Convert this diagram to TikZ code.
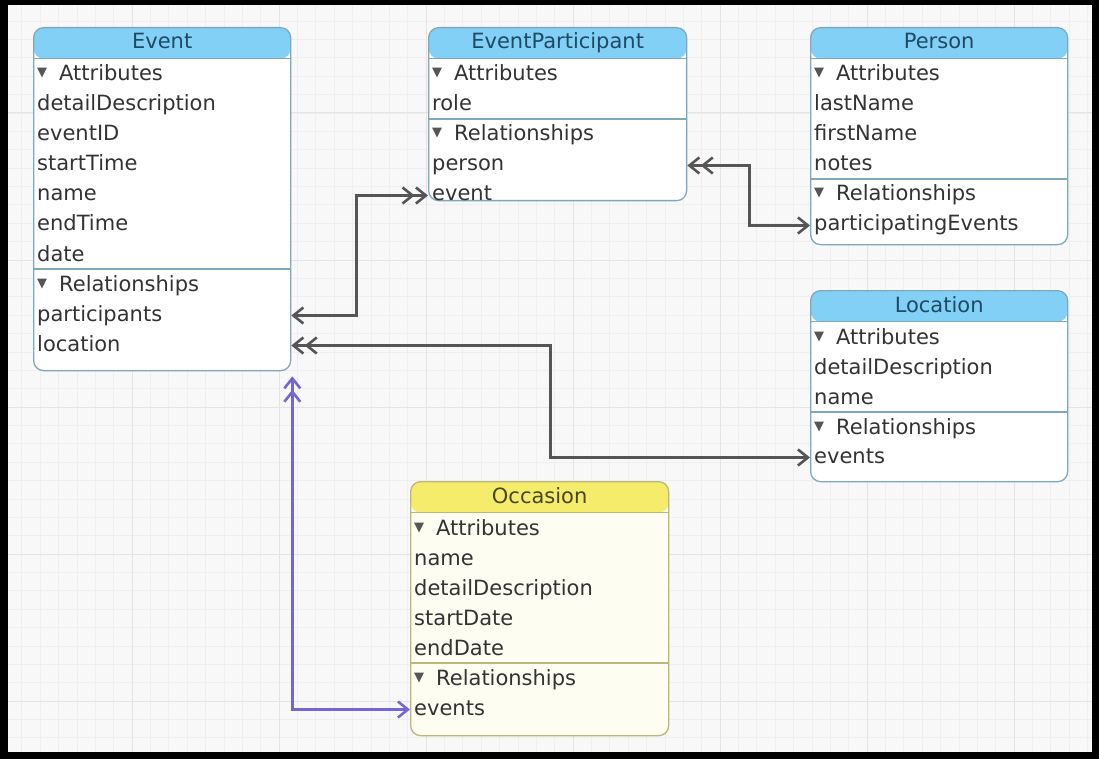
\documentclass[tikz,border=0pt]{standalone}
\usepackage{fontspec}
\setmainfont{DejaVu Sans}
\usetikzlibrary{arrows.meta}

\definecolor{canvasgray}{HTML}{F8F8F8}
\definecolor{minorgrid}{HTML}{EFEFEF}
\definecolor{majorgrid}{HTML}{E4E4E4}
\definecolor{headblue}{HTML}{82D0F5}
\definecolor{bluebox}{HTML}{7FA9BA}
\definecolor{bluetext}{HTML}{1E4A66}
\definecolor{headyellow}{HTML}{F6EC6C}
\definecolor{yellowbox}{HTML}{BDB77C}
\definecolor{yellowbody}{HTML}{FDFDF2}
\definecolor{yellowtext}{HTML}{4A4522}
\definecolor{rowtext}{HTML}{333333}
\definecolor{trigray}{HTML}{555555}
\definecolor{relgray}{HTML}{555555}
\definecolor{relpurple}{HTML}{7466D4}

\newcommand{\disclose}{\makebox[22pt][l]{\raisebox{4pt}{\fontsize{13}{13}\selectfont\textcolor{trigray}{▼}}}}

\tikzset{
  relone/.tip={Straight Barb[length=10pt,width=16pt]},
  relmany/.tip={Straight Barb[length=10pt,width=16pt] Straight Barb[length=10pt,width=16pt]}
}

\begin{document}
\begin{tikzpicture}[x=1pt, y=-1pt,
    font=\fontsize{21}{25}\selectfont,
    entity/.style={rectangle, rounded corners=10pt, line width=1.3pt, anchor=north west, inner sep=0pt},
    blueentity/.style={entity, draw=bluebox, fill=white,
      path picture={\fill[headblue] (path picture bounding box.north west) rectangle ([yshift=-31pt]path picture bounding box.north east);
        \draw[bluebox, line width=1.3pt] ([yshift=-31pt]path picture bounding box.north west) -- ([yshift=-31pt]path picture bounding box.north east);}},
    yellowentity/.style={entity, draw=yellowbox, fill=yellowbody,
      path picture={\fill[headyellow] (path picture bounding box.north west) rectangle ([yshift=-31pt]path picture bounding box.north east);
        \draw[yellowbox, line width=1.3pt] ([yshift=-31pt]path picture bounding box.north west) -- ([yshift=-31pt]path picture bounding box.north east);}},
    bluetitle/.style={anchor=base, text=bluetext, inner sep=0pt},
    yellowtitle/.style={anchor=base, text=yellowtext, inner sep=0pt},
    row/.style={anchor=base west, inner sep=0pt, text=rowtext, text height=15pt, text depth=4pt},
    bluesep/.style={draw=bluebox, line width=1.3pt},
    yellowsep/.style={draw=yellowbox, line width=1.3pt},
    rel/.style={draw=relgray, line width=2.6pt},
    inverse/.style={draw=relpurple, line width=2.6pt}
  ]

	% Screen frame and grid

	\fill[black] (0,0) rectangle (1099,759);
	\fill[canvasgray] (8,5) rectangle (1092,752);
	\foreach \i in {0,...,58}
		\draw[minorgrid, line width=0.7pt] ({21.75+18.375*\i},5) -- ({21.75+18.375*\i},752);
	\foreach \i in {0,...,39}
		\draw[minorgrid, line width=0.7pt] (8,{21.1+18.375*\i}) -- (1092,{21.1+18.375*\i});
	\foreach \x in {132, 279, 426, 573, 720, 867, 1014}
		\draw[majorgrid, line width=1pt] (\x,5) -- (\x,752);
	\foreach \y in {113, 260, 407, 554, 701}
		\draw[majorgrid, line width=1pt] (8,\y) -- (1092,\y);

	% Event

	\node[blueentity, minimum width=257pt, minimum height=343pt] (event) at (33,27) {};
	\node[bluetitle] (event-title) at ([yshift=-22pt]event.north) {Event};
	\node[row] (event-attributes) at (37,81) {\disclose Attributes};
	\foreach \a [count=\i] in {detailDescription, eventID, startTime, name, endTime, date}
		\node[row] (event-\a) at (37, 81+30*\i) {\a};
	\draw[bluesep] (event.west |- 0,269) -- (event.east |- 0,269);
	\node[row] (event-relationships) at (37,291) {\disclose Relationships};
	\foreach \a [count=\i] in {participants, location}
		\node[row] (event-\a) at (37, 291+30*\i) {\a};

	% EventParticipant

	\node[blueentity, minimum width=258pt, minimum height=173pt] (ep) at (428,27) {};
	\node[bluetitle] (ep-title) at ([yshift=-22pt]ep.north) {EventParticipant};
	\node[row] (ep-attributes) at (432,81) {\disclose Attributes};
	\node[row] (ep-role) at (432,111) {role};
	\draw[bluesep] (ep.west |- 0,119) -- (ep.east |- 0,119);
	\node[row] (ep-relationships) at (432,141) {\disclose Relationships};
	\foreach \a [count=\i] in {person, event}
		\node[row] (ep-\a) at (432, 141+30*\i) {\a};

	% Person

	\node[blueentity, minimum width=257pt, minimum height=217pt] (person) at (810,27) {};
	\node[bluetitle] (person-title) at ([yshift=-22pt]person.north) {Person};
	\node[row] (person-attributes) at (814,81) {\disclose Attributes};
	\foreach \a [count=\i] in {lastName, firstName, notes}
		\node[row] (person-\a) at (814, 81+30*\i) {\a};
	\draw[bluesep] (person.west |- 0,179) -- (person.east |- 0,179);
	\node[row] (person-relationships) at (814,201) {\disclose Relationships};
	\node[row] (person-participatingEvents) at (814,231) {participatingEvents};

	% Location

	\node[blueentity, minimum width=257pt, minimum height=191pt] (location) at (810,290) {};
	\node[bluetitle] (location-title) at ([yshift=-22pt]location.north) {Location};
	\node[row] (location-attributes) at (814,344) {\disclose Attributes};
	\foreach \a [count=\i] in {detailDescription, name}
		\node[row] (location-\a) at (814, 344+30*\i) {\a};
	\draw[bluesep] (location.west |- 0,412) -- (location.east |- 0,412);
	\node[row] (location-relationships) at (814,434) {\disclose Relationships};
	\node[row] (location-events) at (814,463) {events};

	% Occasion

	\node[yellowentity, minimum width=258pt, minimum height=254pt] (occasion) at (410,481) {};
	\node[yellowtitle] (occasion-title) at ([yshift=-22pt]occasion.north) {Occasion};
	\node[row] (occasion-attributes) at (414,535) {\disclose Attributes};
	\foreach \a [count=\i] in {name, detailDescription, startDate, endDate}
		\node[row] (occasion-\a) at (414, 535+30*\i) {\a};
	\draw[yellowsep] (occasion.west |- 0,663) -- (occasion.east |- 0,663);
	\node[row] (occasion-relationships) at (414,685) {\disclose Relationships};
	\node[row] (occasion-events) at (414,715) {events};

	% Relationships

	\draw[rel, {relone}-{relmany}] (event-participants -| event.east) -- ++(65,0) |- (ep-event -| ep.west);
	\draw[rel, {relmany}-{relone}] (ep-person -| ep.east) -- ++(62,0) |- (person-participatingEvents -| person.west);
	\draw[rel, {relmany}-{relone}] (event-location -| event.east) -- ++(259,0) |- (location-events -| location.west);

	\coordinate (event-inverse) at ([xshift=1pt, yshift=-5pt]event.south east);
	\draw[inverse, {relone}-{relmany}] (occasion-events -| occasion.west) -| (event-inverse);

\end{tikzpicture}
\end{document}
